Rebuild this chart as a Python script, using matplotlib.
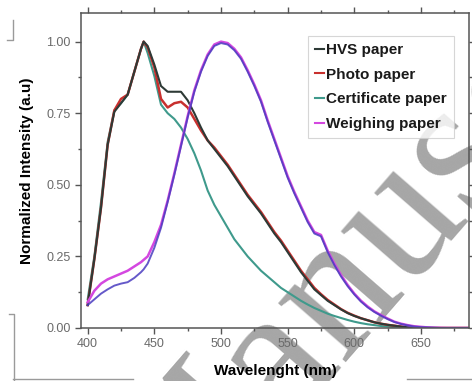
import matplotlib
matplotlib.use("Agg")
import matplotlib.pyplot as plt
from matplotlib.lines import Line2D
from matplotlib.ticker import MultipleLocator, FormatStrFormatter

# wavelength grid (nm) shared by all spectra
wavelength = [400, 405, 410, 415, 420, 425, 430, 435, 440, 442, 445, 450, 455, 460,
              465, 470, 475, 480, 485, 490, 495, 500, 505, 510, 515, 520, 525, 530,
              535, 540, 545, 550, 555, 560, 565, 570, 575, 580, 585, 590, 595, 600,
              605, 610, 615, 620, 625, 630, 635, 640, 645, 650, 655, 660, 665, 670,
              675, 680, 685, 690]

hvs = [0.08, 0.24, 0.42, 0.64, 0.755, 0.785, 0.815, 0.895, 0.975, 1.0, 0.985, 0.92,
       0.845, 0.825, 0.825, 0.825, 0.795, 0.75, 0.70, 0.655, 0.625, 0.595, 0.565,
       0.53, 0.495, 0.46, 0.43, 0.40, 0.365, 0.33, 0.30, 0.265, 0.23, 0.195, 0.165,
       0.135, 0.115, 0.095, 0.08, 0.065, 0.052, 0.042, 0.034, 0.027, 0.02, 0.015,
       0.011, 0.008, 0.005, 0.003, 0.002, 0.001, 0.0, 0.0, 0.0, 0.0, 0.0, 0.0, 0.0, 0.0]

photo = [0.08, 0.24, 0.42, 0.64, 0.76, 0.80, 0.815, 0.895, 0.975, 1.0, 0.98, 0.91,
         0.80, 0.77, 0.785, 0.79, 0.77, 0.73, 0.69, 0.655, 0.63, 0.60, 0.57,
         0.535, 0.50, 0.465, 0.435, 0.405, 0.37, 0.335, 0.305, 0.27, 0.235, 0.20,
         0.17, 0.14, 0.118, 0.098, 0.082, 0.066, 0.053, 0.043, 0.034, 0.027, 0.02,
         0.015, 0.011, 0.008, 0.005, 0.003, 0.002, 0.001, 0.0, 0.0, 0.0, 0.0, 0.0,
         0.0, 0.0, 0.0]

certificate = [0.10, 0.25, 0.44, 0.65, 0.76, 0.785, 0.815, 0.895, 0.975, 1.0, 0.96,
               0.88, 0.78, 0.75, 0.73, 0.70, 0.66, 0.61, 0.55, 0.48, 0.43, 0.39,
               0.35, 0.31, 0.28, 0.25, 0.225, 0.20, 0.18, 0.16, 0.14, 0.125, 0.11,
               0.095, 0.082, 0.07, 0.06, 0.05, 0.042, 0.035, 0.028, 0.022, 0.017,
               0.013, 0.01, 0.007, 0.005, 0.003, 0.002, 0.001, 0.0, 0.0, 0.0, 0.0,
               0.0, 0.0, 0.0, 0.0, 0.0, 0.0]

weighing = [0.09, 0.13, 0.155, 0.17, 0.18, 0.19, 0.20, 0.215, 0.23, 0.238, 0.25,
            0.30, 0.36, 0.445, 0.54, 0.64, 0.74, 0.83, 0.90, 0.955, 0.99, 1.0, 0.995,
            0.975, 0.945, 0.90, 0.85, 0.795, 0.725, 0.66, 0.595, 0.53, 0.475, 0.425,
            0.375, 0.335, 0.325, 0.27, 0.225, 0.185, 0.15, 0.12, 0.095, 0.075, 0.058,
            0.045, 0.033, 0.022, 0.015, 0.01, 0.006, 0.004, 0.002, 0.001, 0.0005,
            0.0, 0.0, 0.0, 0.0, 0.0]

# unlabeled blue trace that sits just under the weighing paper curve
blue_trace = [0.08, 0.10, 0.12, 0.135, 0.148, 0.155, 0.16, 0.175, 0.195, 0.205, 0.225,
              0.28, 0.35, 0.44, 0.535, 0.635, 0.735, 0.825, 0.895, 0.95, 0.985, 0.995,
              0.99, 0.97, 0.94, 0.895, 0.845, 0.79, 0.72, 0.655, 0.59, 0.525, 0.47,
              0.42, 0.37, 0.33, 0.32, 0.265, 0.22, 0.18, 0.146, 0.117, 0.092, 0.072,
              0.056, 0.043, 0.031, 0.021, 0.014, 0.009, 0.005, 0.003, 0.002, 0.001,
              0.0, 0.0, 0.0, 0.0, 0.0, 0.0]

labels = ["HVS paper", "Photo paper", "Certificate paper", "Weighing paper"]
colors = {"hvs": "#2e3a36", "photo": "#c8302e", "cert": "#3f9a8c",
          "weigh": "#d448e0", "blue": "#4a3cc0"}

plt.rcParams["font.family"] = ["Liberation Sans", "DejaVu Sans"]

fig = plt.figure(figsize=(4.72, 3.81), dpi=100)
ax = fig.add_axes([81 / 472, 1 - 328 / 381, 388 / 472, 315 / 381])
ax.patch.set_alpha(0)

ax.plot(wavelength, certificate, color=colors["cert"], lw=1.5)
ax.plot(wavelength, photo, color=colors["photo"], lw=1.8)
ax.plot(wavelength, hvs, color=colors["hvs"], lw=1.5)
ax.plot(wavelength, weighing, color=colors["weigh"], lw=1.8)
ax.plot(wavelength, blue_trace, color=colors["blue"], lw=1.4, alpha=0.85)

ax.set_xlim(395, 686)
ax.set_ylim(0, 1.1)
ax.xaxis.set_major_locator(MultipleLocator(50))
ax.xaxis.set_minor_locator(MultipleLocator(25))
ax.yaxis.set_major_locator(MultipleLocator(0.25))
ax.yaxis.set_minor_locator(MultipleLocator(0.125))
ax.yaxis.set_major_formatter(FormatStrFormatter("%.2f"))

ax.tick_params(which="both", direction="out", color="#555555", width=1.0,
               labelsize=9, labelcolor="#6a6a6a")
ax.tick_params(which="major", length=4)
ax.tick_params(which="minor", length=2.5)
ax.tick_params(axis="x", which="both", top=True, labeltop=False)
ax.tick_params(axis="y", which="both", right=True, labelright=False)
for spine in ax.spines.values():
    spine.set_color("#555555")
    spine.set_linewidth(1.1)

ax.set_xlabel("Wavelenght (nm)", fontsize=11, fontweight="bold", labelpad=10)
ax.set_ylabel("Normalized Intensity (a.u)", fontsize=11, fontweight="bold", labelpad=9)

handles = [Line2D([], [], color=colors["hvs"], lw=1.5),
           Line2D([], [], color=colors["photo"], lw=1.5),
           Line2D([], [], color=colors["cert"], lw=1.5),
           Line2D([], [], color=colors["weigh"], lw=1.5)]
leg = ax.legend(handles, labels, loc="upper left", bbox_to_anchor=(0.585, 0.927),
                frameon=True, fancybox=False, edgecolor="#cccccc", handlelength=0.6,
                handletextpad=0.15, borderpad=0.45, labelspacing=0.7,
                prop={"weight": "bold", "size": 11}, borderaxespad=0)
leg.get_frame().set_linewidth(0.8)
for t in leg.get_texts():
    t.set_color("#1a1a1a")

# scanned-page watermark, behind the axes content
fig.text(172 / 472, -175 / 381, "Manuscript", fontsize=140, family="Liberation Serif",
         color="#a6a6a6", rotation=49, rotation_mode="anchor",
         ha="left", va="baseline", zorder=-1)

# page crop marks from the scan
mark = dict(color="#9a9a9a", lw=1.0, transform=fig.transFigure)
fig.add_artist(Line2D([7 / 472, 13 / 472, 13 / 472], [1 - 40 / 381, 1 - 40 / 381, 1 - 20 / 381], **mark))
fig.add_artist(Line2D([9 / 472, 14 / 472, 14 / 472], [1 - 314 / 381, 1 - 314 / 381, 0], **mark))
fig.add_artist(Line2D([13 / 472, 133 / 472], [1 - 379 / 381, 1 - 379 / 381], **mark))
fig.add_artist(Line2D([407 / 472, 1], [1 - 379 / 381, 1 - 379 / 381], **mark))

fig.savefig("out.png", dpi=100)
